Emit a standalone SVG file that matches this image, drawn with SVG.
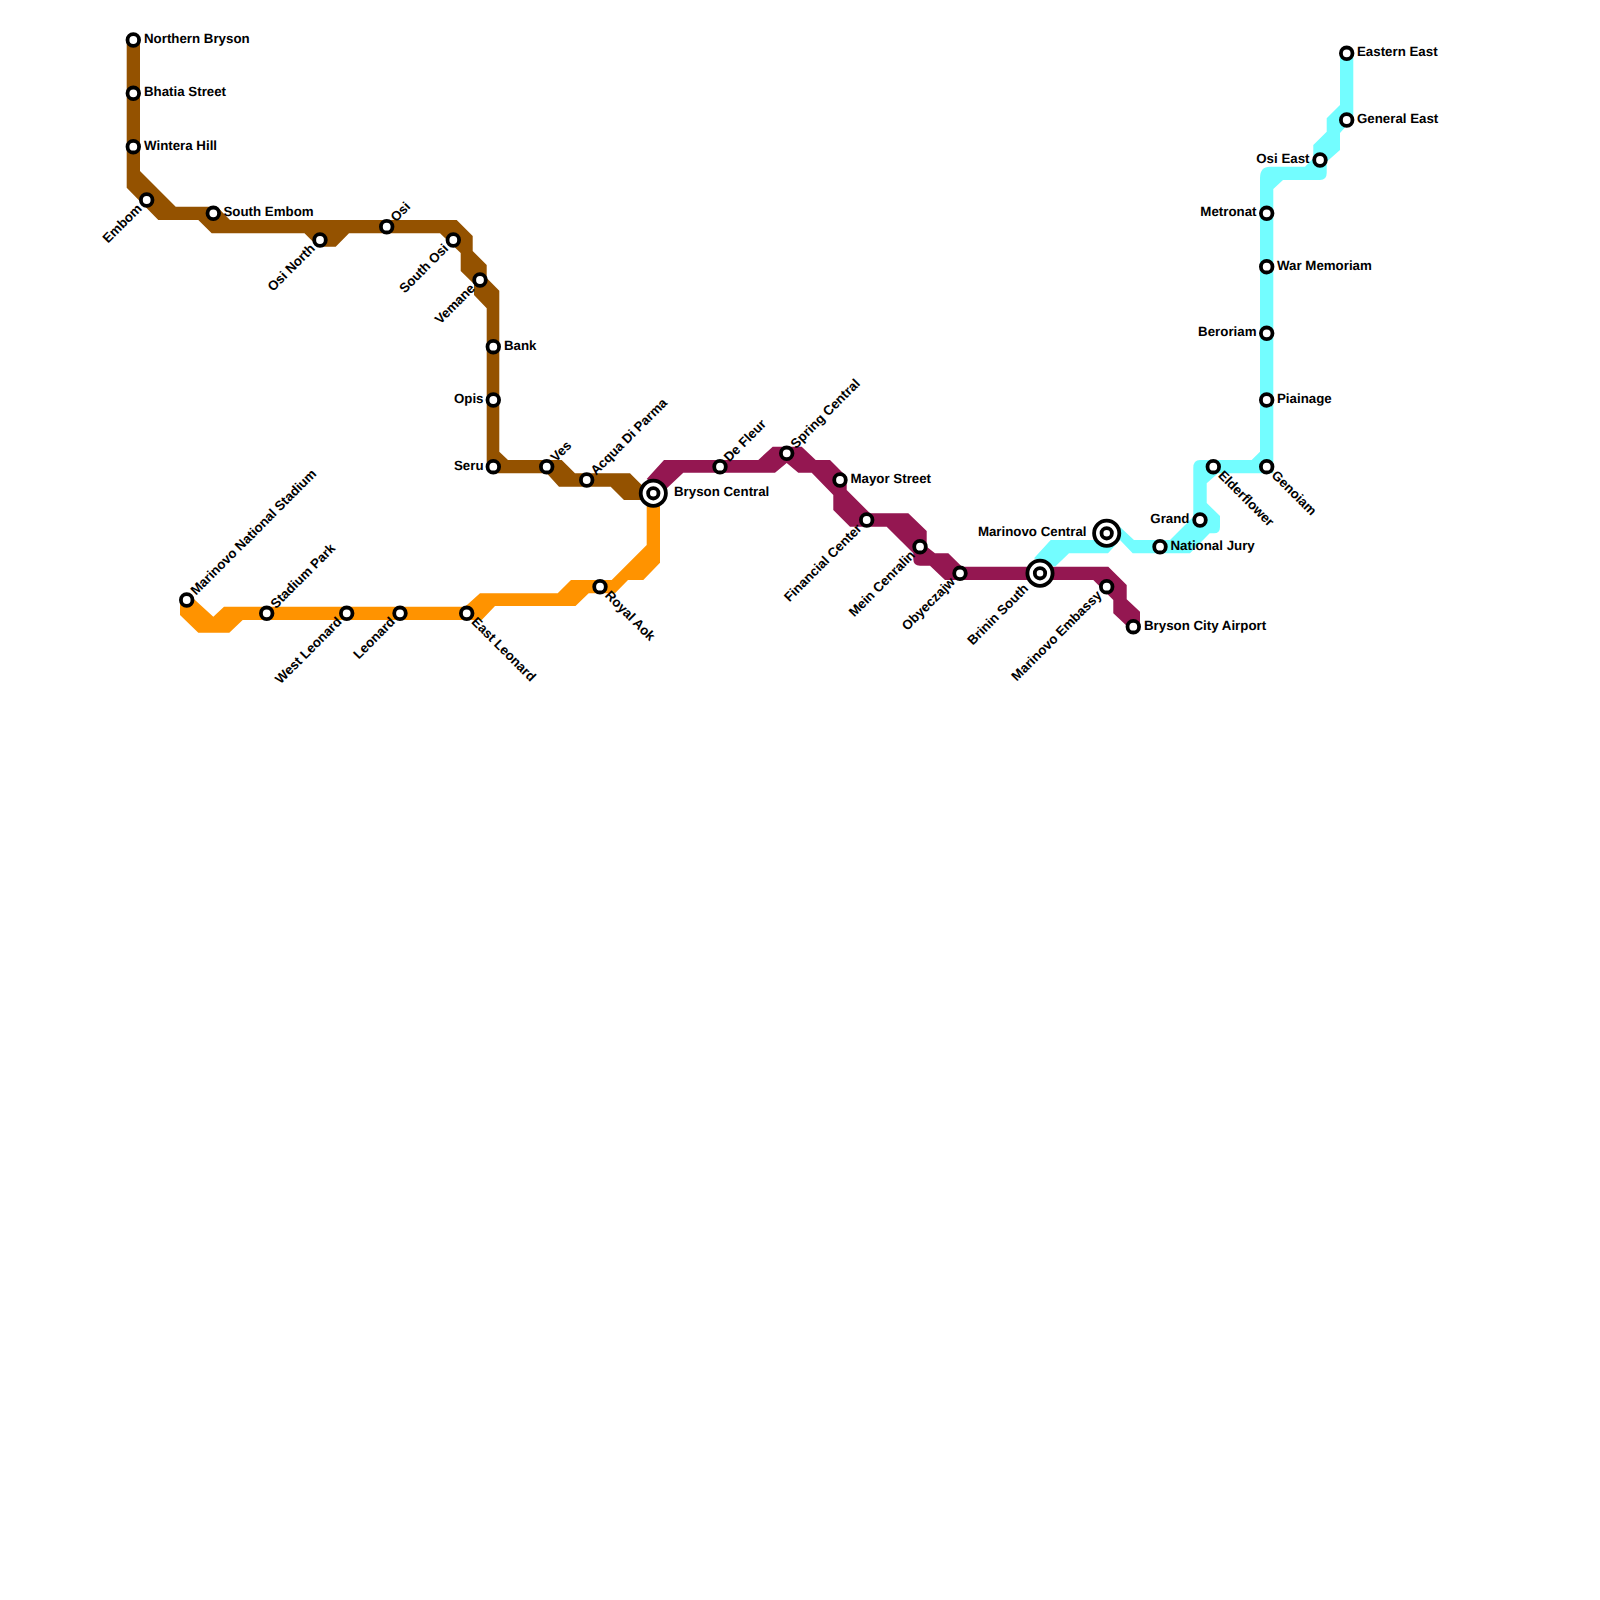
<svg xmlns="http://www.w3.org/2000/svg" width="1600" height="1600" viewBox="0 0 1600 1600">
<style>
.bg{fill:#fff}
.l{stroke:none}
.brown{fill:#945200}.orange{fill:#FF9300}.maroon{fill:#941751}.ice{fill:#73FDFF}
.st{fill:#fff;stroke:#000;stroke-width:3.8}
text{font-family:"Liberation Sans",Arial,sans-serif;font-weight:bold;font-size:13.3px;fill:#000;text-rendering:geometricPrecision}
.e{text-anchor:end}
</style>
<defs>
<circle id="s" class="st" r="5.8"/>
<g id="x"><circle r="12.6" class="st"/><circle r="5.2" class="st"/></g>
</defs>
<rect class="bg" width="1600" height="1600"/>
<g id="connectors">
<path class="l brown" d="M126.7 40H140V171L175.7 206.7H217L230 220H456.7L472.7 236V251L486.7 265V278L499.3 290.7V451.7L508 460H561.7L575 473.3H630L643 486.3L650 500H624L610.7 486.7H559L546.7 473.3H493L486.7 467V308.3L474 295V284L460.7 271V253L440 233.3H349L335.7 246.7H318L304.5 233.3H211.7L198.3 220H158.3L126.7 187.7Z"/>
<path class="l orange" d="M186.7 593L195 600L213.3 616.7L224 606.7H465L480 593.3H557.7L571 580H611.7L646.7 545V500H660V562.7L643.3 580H628L615 593.3H588.7L575.5 606H495L481.7 620H242.7L229.3 632.7H198.3L180 615V603.3Z"/>
<path class="l maroon" d="M646.7 479L664 460H758.3L772.7 446.7H801.7L815.7 460H830L846.7 476.7V490L870 513.3H908.3L926.7 531V546.7L935 553.3H948.3L962 566.7H1108.3L1126.7 585V599.3L1140 611.7V627H1128L1113.3 613.3V600L1093.3 580H945L930 565.7H920Q913.3 565.7 913.3 559V553.3L886.7 526.7H850L833.3 510V495L811.7 472.7H798.3L786.7 463L775 472.7H683.3L665 490Z"/>
<path class="l ice" d="M1034 558.3L1050.7 540H1105L1120 527L1134 540H1170L1193.3 516.7V468Q1193.3 460 1200 460H1251.7L1260 451.7V178Q1260 166.7 1270 166.7H1305L1313.3 158.3V145L1326.7 131.7V118.3L1340 105V53.3H1353.3V118L1340 133V150L1326.7 161.7V173Q1326.7 180 1320 180H1283L1273.3 189V473.3H1218L1206.7 483.3V503L1220 516V527Q1220 533.3 1214 533.3H1209.7L1190 553.3H1132.7L1120 540L1108 553.3H1069L1055 566.7Z"/>
</g>
<g id="n-northern-bryson"><use href="#s" x="133.3" y="40"/><text x="144" y="42.8">Northern Bryson</text></g>
<g id="n-bhatia-street"><use href="#s" x="133.3" y="93.3"/><text x="144" y="96.1">Bhatia Street</text></g>
<g id="n-wintera-hill"><use href="#s" x="133.3" y="146.7"/><text x="144" y="149.5">Wintera Hill</text></g>
<g id="n-embom"><use href="#s" x="146.7" y="200"/><text class="e" transform="translate(146.7 200) rotate(-45)" x="-9.5" y="3.6">Embom</text></g>
<g id="n-south-embom"><use href="#s" x="213.3" y="213.3"/><text x="223.5" y="216.1">South Embom</text></g>
<g id="n-osi-north"><use href="#s" x="320" y="240"/><text class="e" transform="translate(320 240) rotate(-45)" x="-9.5" y="3.6">Osi North</text></g>
<g id="n-osi"><use href="#s" x="386.7" y="226.7"/><text transform="translate(386.7 226.7) rotate(-45)" x="9.5" y="3.6">Osi</text></g>
<g id="n-south-osi"><use href="#s" x="453.3" y="240"/><text class="e" transform="translate(453.3 240) rotate(-45)" x="-9.5" y="3.6">South Osi</text></g>
<g id="n-vemane"><use href="#s" x="480" y="280"/><text class="e" transform="translate(480 280) rotate(-45)" x="-9.5" y="3.6">Vemane</text></g>
<g id="n-bank"><use href="#s" x="493.3" y="346.7"/><text x="504" y="349.5">Bank</text></g>
<g id="n-opis"><use href="#s" x="493.3" y="400"/><text class="e" x="483.5" y="402.8">Opis</text></g>
<g id="n-seru"><use href="#s" x="493.3" y="466.7"/><text class="e" x="483.5" y="469.5">Seru</text></g>
<g id="n-ves"><use href="#s" x="546.7" y="466.7"/><text transform="translate(546.7 466.7) rotate(-45)" x="9.5" y="3.6">Ves</text></g>
<g id="n-acqua-di-parma"><use href="#s" x="586.7" y="480"/><text transform="translate(586.7 480) rotate(-45)" x="9.5" y="3.6">Acqua Di Parma</text></g>
<g id="n-bryson-central"><use href="#x" x="653.3" y="493.3"/><text x="674" y="496.1">Bryson Central</text></g>
<g id="n-marinovo-national-stadium"><use href="#s" x="186.7" y="600"/><text transform="translate(186.7 600) rotate(-45)" x="9.5" y="3.6">Marinovo National Stadium</text></g>
<g id="n-stadium-park"><use href="#s" x="266.7" y="613.3"/><text transform="translate(266.7 613.3) rotate(-45)" x="9.5" y="3.6">Stadium Park</text></g>
<g id="n-west-leonard"><use href="#s" x="346.7" y="613.3"/><text class="e" transform="translate(346.7 613.3) rotate(-45)" x="-9.5" y="3.6">West Leonard</text></g>
<g id="n-leonard"><use href="#s" x="400" y="613.3"/><text class="e" transform="translate(400 613.3) rotate(-45)" x="-9.5" y="3.6">Leonard</text></g>
<g id="n-east-leonard"><use href="#s" x="466.7" y="613.3"/><text transform="translate(466.7 613.3) rotate(45)" x="9.5" y="3.6">East Leonard</text></g>
<g id="n-royal-aok"><use href="#s" x="600" y="586.7"/><text transform="translate(600 586.7) rotate(45)" x="9.5" y="3.6">Royal Aok</text></g>
<g id="n-de-fleur"><use href="#s" x="720" y="466.7"/><text transform="translate(720 466.7) rotate(-45)" x="9.5" y="3.6">De Fleur</text></g>
<g id="n-spring-central"><use href="#s" x="786.7" y="453.3"/><text transform="translate(786.7 453.3) rotate(-45)" x="9.5" y="3.6">Spring Central</text></g>
<g id="n-mayor-street"><use href="#s" x="840" y="480"/><text x="850.5" y="482.8">Mayor Street</text></g>
<g id="n-financial-center"><use href="#s" x="866.7" y="520"/><text class="e" transform="translate(866.7 520) rotate(-45)" x="-9.5" y="3.6">Financial Center</text></g>
<g id="n-mein-cenralin"><use href="#s" x="920" y="546.7"/><text class="e" transform="translate(920 546.7) rotate(-45)" x="-9.5" y="3.6">Mein Cenralin</text></g>
<g id="n-obyeczajw"><use href="#s" x="960" y="573.3"/><text class="e" transform="translate(960 573.3) rotate(-45)" x="-9.5" y="3.6">Obyeczajw</text></g>
<g id="n-brinin-south"><use href="#x" x="1040" y="573.3"/><text class="e" transform="translate(1040 573.3) rotate(-45)" x="-19" y="3.6">Brinin South</text></g>
<g id="n-marinovo-embassy"><use href="#s" x="1106.7" y="586.7"/><text class="e" transform="translate(1106.7 586.7) rotate(-45)" x="-9.5" y="3.6">Marinovo Embassy</text></g>
<g id="n-bryson-city-airport"><use href="#s" x="1133.3" y="626.7"/><text x="1144" y="629.5">Bryson City Airport</text></g>
<g id="n-marinovo-central"><use href="#x" x="1106.7" y="533.3"/><text class="e" x="1086.5" y="536.1">Marinovo Central</text></g>
<g id="n-national-jury"><use href="#s" x="1160" y="546.7"/><text x="1170.5" y="549.5">National Jury</text></g>
<g id="n-grand"><use href="#s" x="1200" y="520"/><text class="e" x="1189.5" y="522.8">Grand</text></g>
<g id="n-elderflower"><use href="#s" x="1213.3" y="466.7"/><text transform="translate(1213.3 466.7) rotate(45)" x="9.5" y="3.6">Elderflower</text></g>
<g id="n-genoiam"><use href="#s" x="1266.7" y="466.7"/><text transform="translate(1266.7 466.7) rotate(45)" x="9.5" y="3.6">Genoiam</text></g>
<g id="n-piainage"><use href="#s" x="1266.7" y="400"/><text x="1277" y="402.8">Piainage</text></g>
<g id="n-beroriam"><use href="#s" x="1266.7" y="333.3"/><text class="e" x="1256.5" y="336.1">Beroriam</text></g>
<g id="n-war-memorial"><use href="#s" x="1266.7" y="266.7"/><text x="1277" y="269.5">War Memoriam</text></g>
<g id="n-metronat"><use href="#s" x="1266.7" y="213.3"/><text class="e" x="1256.5" y="216.1">Metronat</text></g>
<g id="n-osi-east"><use href="#s" x="1320" y="160"/><text class="e" x="1309.5" y="162.8">Osi East</text></g>
<g id="n-general-east"><use href="#s" x="1346.7" y="120"/><text x="1357" y="122.8">General East</text></g>
<g id="n-eastern-east"><use href="#s" x="1346.7" y="53.3"/><text x="1357" y="56.1">Eastern East</text></g>
</svg>
